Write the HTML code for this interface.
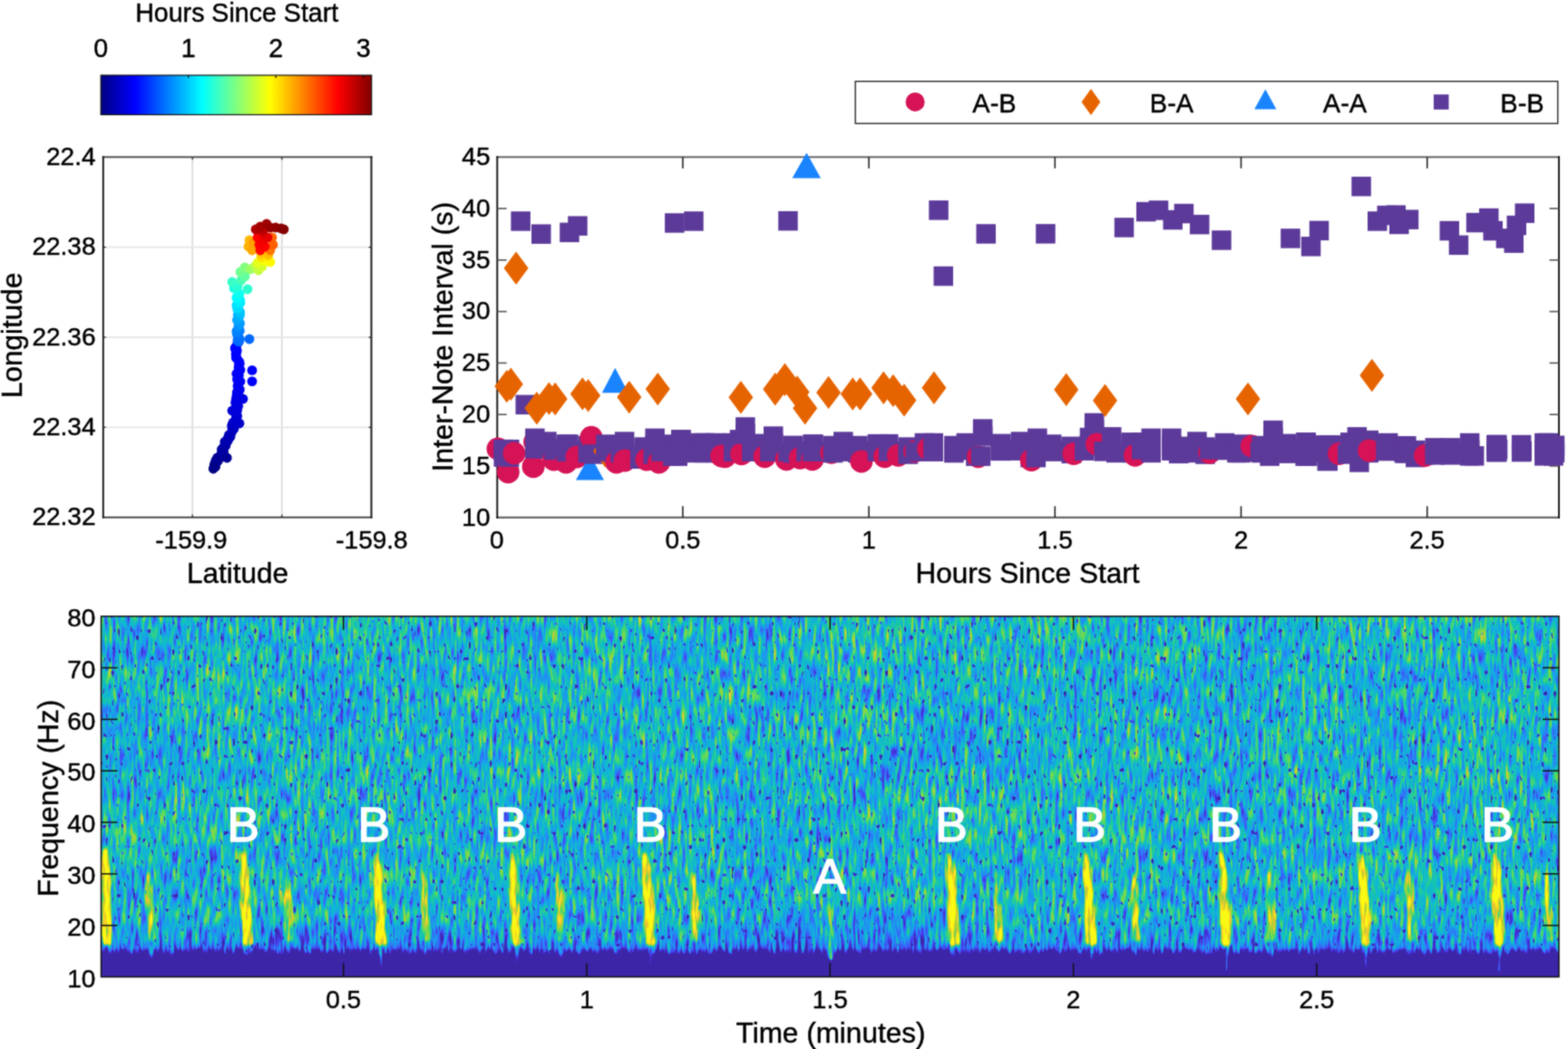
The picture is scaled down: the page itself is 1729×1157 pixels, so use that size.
<!DOCTYPE html>
<html><head><meta charset="utf-8"><title>Figure</title><style>
html,body{margin:0;padding:0;background:#fff;overflow:hidden;}
svg{display:block;}
text{font-family:"Liberation Sans", Arial, Helvetica, sans-serif;}
</style></head><body>
<svg width="1729" height="1157" viewBox="0 0 1729 1157">
<defs><linearGradient id="jetg" x1="0" y1="0" x2="1" y2="0"><stop offset="0.0000" stop-color="#000080"/><stop offset="0.0208" stop-color="#000095"/><stop offset="0.0417" stop-color="#0000aa"/><stop offset="0.0625" stop-color="#0000bf"/><stop offset="0.0833" stop-color="#0000d4"/><stop offset="0.1042" stop-color="#0000ea"/><stop offset="0.1250" stop-color="#0000ff"/><stop offset="0.1458" stop-color="#0015ff"/><stop offset="0.1667" stop-color="#002aff"/><stop offset="0.1875" stop-color="#0040ff"/><stop offset="0.2083" stop-color="#0055ff"/><stop offset="0.2292" stop-color="#006aff"/><stop offset="0.2500" stop-color="#0080ff"/><stop offset="0.2708" stop-color="#0095ff"/><stop offset="0.2917" stop-color="#00aaff"/><stop offset="0.3125" stop-color="#00bfff"/><stop offset="0.3333" stop-color="#00d4ff"/><stop offset="0.3542" stop-color="#00eaff"/><stop offset="0.3750" stop-color="#00ffff"/><stop offset="0.3958" stop-color="#15ffea"/><stop offset="0.4167" stop-color="#2bffd4"/><stop offset="0.4375" stop-color="#40ffbf"/><stop offset="0.4583" stop-color="#55ffaa"/><stop offset="0.4792" stop-color="#6aff95"/><stop offset="0.5000" stop-color="#80ff80"/><stop offset="0.5208" stop-color="#95ff6a"/><stop offset="0.5417" stop-color="#aaff55"/><stop offset="0.5625" stop-color="#bfff40"/><stop offset="0.5833" stop-color="#d5ff2a"/><stop offset="0.6042" stop-color="#eaff15"/><stop offset="0.6250" stop-color="#ffff00"/><stop offset="0.6458" stop-color="#ffea00"/><stop offset="0.6667" stop-color="#ffd500"/><stop offset="0.6875" stop-color="#ffbf00"/><stop offset="0.7083" stop-color="#ffaa00"/><stop offset="0.7292" stop-color="#ff9500"/><stop offset="0.7500" stop-color="#ff8000"/><stop offset="0.7708" stop-color="#ff6a00"/><stop offset="0.7917" stop-color="#ff5500"/><stop offset="0.8125" stop-color="#ff4000"/><stop offset="0.8333" stop-color="#ff2a00"/><stop offset="0.8542" stop-color="#ff1500"/><stop offset="0.8750" stop-color="#ff0000"/><stop offset="0.8958" stop-color="#ea0000"/><stop offset="0.9167" stop-color="#d50000"/><stop offset="0.9375" stop-color="#bf0000"/><stop offset="0.9583" stop-color="#aa0000"/><stop offset="0.9792" stop-color="#950000"/><stop offset="1.0000" stop-color="#800000"/></linearGradient>
<filter id="spf" filterUnits="userSpaceOnUse" x="111.5" y="679.7" width="1607.5" height="397.8" color-interpolation-filters="sRGB">
<feTurbulence type="fractalNoise" baseFrequency="0.25 0.045" numOctaves="2" seed="4" result="t"/>
<feColorMatrix in="t" type="matrix" values="1 0 0 0 0  1 0 0 0 0  1 0 0 0 0  0 0 0 0 1" result="g"/>
<feTurbulence type="fractalNoise" baseFrequency="0.01 0.015" numOctaves="2" seed="9" result="t2"/>
<feColorMatrix in="t2" type="matrix" values="1 0 0 0 0  1 0 0 0 0  1 0 0 0 0  0 0 0 0 1" result="g2"/>
<feComposite in="g" in2="g2" operator="arithmetic" k1="0" k2="1" k3="0.22" k4="-0.11" result="m"/>
<feComposite in="m" in2="SourceGraphic" operator="arithmetic" k1="0" k2="1" k3="2" k4="-1" result="v0"/>
<feTurbulence type="fractalNoise" baseFrequency="0.3 0.13" numOctaves="1" seed="21" result="t3"/><feColorMatrix in="t3" type="matrix" values="1 0 0 0 0  1 0 0 0 0  1 0 0 0 0  0 0 0 0 1" result="g3"/><feComponentTransfer in="g3" result="d3"><feFuncR type="table" tableValues="0.020 0.020 0.020 0.020 0.020 0.020 0.020 0.020 0.020 0.020 0.020 0.020 0.020 0.020 0.020 0.020 0.020 0.020 0.020 0.020 0.020 0.020 0.020 0.020 0.020 0.020 0.020 0.075 0.130 0.185 0.240 0.295 0.350 0.458 0.567 0.675 0.783 0.892 1.000 1.000 1.000 1.000 1.000 1.000 1.000 1.000 1.000 1.000 1.000 1.000 1.000 1.000 1.000 1.000 1.000 1.000 1.000 1.000 1.000 1.000 1.000 1.000 1.000 1.000 1.000 1.000 1.000 1.000 1.000 1.000 1.000 1.000 1.000 1.000 1.000 1.000 1.000 1.000 1.000 1.000 1.000 1.000 1.000 1.000 1.000 1.000 1.000 1.000 1.000 1.000 1.000 1.000 1.000 1.000 1.000 1.000 1.000 1.000 1.000 1.000 1.000"/><feFuncG type="table" tableValues="0.020 0.020 0.020 0.020 0.020 0.020 0.020 0.020 0.020 0.020 0.020 0.020 0.020 0.020 0.020 0.020 0.020 0.020 0.020 0.020 0.020 0.020 0.020 0.020 0.020 0.020 0.020 0.075 0.130 0.185 0.240 0.295 0.350 0.458 0.567 0.675 0.783 0.892 1.000 1.000 1.000 1.000 1.000 1.000 1.000 1.000 1.000 1.000 1.000 1.000 1.000 1.000 1.000 1.000 1.000 1.000 1.000 1.000 1.000 1.000 1.000 1.000 1.000 1.000 1.000 1.000 1.000 1.000 1.000 1.000 1.000 1.000 1.000 1.000 1.000 1.000 1.000 1.000 1.000 1.000 1.000 1.000 1.000 1.000 1.000 1.000 1.000 1.000 1.000 1.000 1.000 1.000 1.000 1.000 1.000 1.000 1.000 1.000 1.000 1.000 1.000"/><feFuncB type="table" tableValues="0.020 0.020 0.020 0.020 0.020 0.020 0.020 0.020 0.020 0.020 0.020 0.020 0.020 0.020 0.020 0.020 0.020 0.020 0.020 0.020 0.020 0.020 0.020 0.020 0.020 0.020 0.020 0.075 0.130 0.185 0.240 0.295 0.350 0.458 0.567 0.675 0.783 0.892 1.000 1.000 1.000 1.000 1.000 1.000 1.000 1.000 1.000 1.000 1.000 1.000 1.000 1.000 1.000 1.000 1.000 1.000 1.000 1.000 1.000 1.000 1.000 1.000 1.000 1.000 1.000 1.000 1.000 1.000 1.000 1.000 1.000 1.000 1.000 1.000 1.000 1.000 1.000 1.000 1.000 1.000 1.000 1.000 1.000 1.000 1.000 1.000 1.000 1.000 1.000 1.000 1.000 1.000 1.000 1.000 1.000 1.000 1.000 1.000 1.000 1.000 1.000"/></feComponentTransfer><feGaussianBlur in="d3" stdDeviation="0.7" result="d4"/><feComponentTransfer in="SourceGraphic" result="cm"><feFuncR type="table" tableValues="0 0 0 0 0 0 0 0 0 0 0 0.5 1 1 1 1 1 1 1 1 1"/><feFuncG type="table" tableValues="0 0 0 0 0 0 0 0 0 0 0 0.5 1 1 1 1 1 1 1 1 1"/><feFuncB type="table" tableValues="0 0 0 0 0 0 0 0 0 0 0 0.5 1 1 1 1 1 1 1 1 1"/></feComponentTransfer><feBlend in="d4" in2="cm" mode="lighten" result="d5"/><feBlend in="v0" in2="d5" mode="darken" result="v"/>
<feComponentTransfer in="v"><feFuncR type="table" tableValues="0.243 0.243 0.243 0.243 0.243 0.243 0.243 0.243 0.243 0.243 0.245 0.249 0.253 0.258 0.262 0.266 0.270 0.274 0.274 0.273 0.271 0.270 0.269 0.268 0.267 0.255 0.241 0.227 0.213 0.199 0.185 0.171 0.157 0.149 0.140 0.133 0.127 0.120 0.114 0.108 0.101 0.095 0.090 0.085 0.080 0.075 0.069 0.064 0.059 0.064 0.068 0.073 0.078 0.083 0.088 0.093 0.097 0.119 0.144 0.168 0.192 0.216 0.240 0.265 0.289 0.319 0.350 0.382 0.413 0.444 0.476 0.509 0.542 0.572 0.600 0.628 0.657 0.685 0.715 0.758 0.794 0.829 0.863 0.898 0.933 0.947 0.956 0.965 0.974 0.980 0.980 0.980 0.980 0.980 0.980 0.980"/><feFuncG type="table" tableValues="0.149 0.149 0.149 0.149 0.149 0.149 0.149 0.149 0.149 0.149 0.151 0.154 0.158 0.162 0.165 0.169 0.172 0.176 0.193 0.211 0.231 0.251 0.270 0.290 0.310 0.334 0.360 0.385 0.410 0.435 0.460 0.485 0.510 0.526 0.543 0.557 0.570 0.583 0.596 0.608 0.621 0.635 0.648 0.660 0.673 0.686 0.699 0.712 0.725 0.733 0.740 0.747 0.754 0.762 0.769 0.776 0.783 0.792 0.801 0.809 0.818 0.827 0.836 0.844 0.853 0.854 0.852 0.851 0.849 0.848 0.847 0.845 0.843 0.839 0.834 0.829 0.824 0.818 0.813 0.805 0.797 0.790 0.782 0.774 0.767 0.777 0.794 0.812 0.831 0.850 0.872 0.894 0.915 0.937 0.959 0.980"/><feFuncB type="table" tableValues="0.659 0.659 0.659 0.659 0.659 0.659 0.659 0.659 0.659 0.659 0.670 0.693 0.716 0.738 0.761 0.784 0.806 0.829 0.848 0.867 0.887 0.908 0.928 0.948 0.969 0.971 0.970 0.968 0.967 0.965 0.964 0.962 0.961 0.955 0.950 0.945 0.941 0.936 0.932 0.928 0.924 0.914 0.901 0.889 0.876 0.863 0.850 0.837 0.824 0.802 0.780 0.758 0.737 0.715 0.693 0.671 0.650 0.621 0.592 0.563 0.534 0.505 0.476 0.447 0.418 0.397 0.377 0.358 0.339 0.319 0.300 0.280 0.259 0.249 0.241 0.233 0.225 0.218 0.210 0.198 0.196 0.196 0.196 0.196 0.196 0.187 0.174 0.160 0.147 0.134 0.125 0.116 0.106 0.097 0.088 0.078"/><feFuncA type="linear" slope="0" intercept="1"/></feComponentTransfer>
</filter>
<filter id="cb" x="-50%" y="-20%" width="200%" height="140%"><feGaussianBlur stdDeviation="1.8"/></filter>
<linearGradient id="vg" gradientUnits="userSpaceOnUse" x1="0" y1="679.7" x2="0" y2="1077.5"><stop offset="0.0000" stop-color="rgb(131,131,131)"/><stop offset="0.1000" stop-color="rgb(129,129,129)"/><stop offset="0.2500" stop-color="rgb(128,128,128)"/><stop offset="0.8200" stop-color="rgb(128,128,128)"/><stop offset="0.8600" stop-color="rgb(122,122,122)"/><stop offset="0.8970" stop-color="rgb(115,115,115)"/><stop offset="0.9190" stop-color="rgb(105,105,105)"/><stop offset="0.9330" stop-color="rgb(70,70,70)"/><stop offset="0.9480" stop-color="rgb(0,0,0)"/><stop offset="1.0000" stop-color="rgb(0,0,0)"/></linearGradient><filter id="soft" filterUnits="userSpaceOnUse" x="0" y="0" width="1729" height="1157" color-interpolation-filters="sRGB"><feConvolveMatrix order="3" kernelMatrix="1 2 1 2 8 2 1 2 1" divisor="20" edgeMode="duplicate" preserveAlpha="true"/></filter></defs>
<g filter="url(#soft)">
<rect width="1729" height="1157" fill="#fff"/>
<text x="261.2" y="23.6" font-size="28.6" text-anchor="middle" fill="#000" stroke="#000" stroke-width="0.45">Hours Since Start</text>
<text x="111.2" y="63.2" font-size="28.6" text-anchor="middle" fill="#000" stroke="#000" stroke-width="0.45">0</text>
<text x="207.7" y="63.2" font-size="28.6" text-anchor="middle" fill="#000" stroke="#000" stroke-width="0.45">1</text>
<text x="304.2" y="63.2" font-size="28.6" text-anchor="middle" fill="#000" stroke="#000" stroke-width="0.45">2</text>
<text x="400.7" y="63.2" font-size="28.6" text-anchor="middle" fill="#000" stroke="#000" stroke-width="0.45">3</text>
<rect x="111.2" y="83" width="298.5" height="43.5" fill="url(#jetg)" stroke="#111" stroke-width="1.2"/>
<line x1="207.7" y1="83" x2="207.7" y2="86" stroke="#111" stroke-width="1.2"/>
<line x1="304.2" y1="83" x2="304.2" y2="86" stroke="#111" stroke-width="1.2"/>
<line x1="400.7" y1="83" x2="400.7" y2="86" stroke="#111" stroke-width="1.2"/>
<line x1="212.2" y1="173.3" x2="212.2" y2="570.6" stroke="#dcdcdc" stroke-width="1.8"/>
<line x1="310.8" y1="173.3" x2="310.8" y2="570.6" stroke="#dcdcdc" stroke-width="1.8"/>
<line x1="113.8" y1="272.6" x2="409.5" y2="272.6" stroke="#e6e6e6" stroke-width="1.8"/>
<line x1="113.8" y1="372" x2="409.5" y2="372" stroke="#e6e6e6" stroke-width="1.8"/>
<line x1="113.8" y1="471.3" x2="409.5" y2="471.3" stroke="#e6e6e6" stroke-width="1.8"/>
<circle cx="235.2" cy="517" r="5.4" fill="#000080"/>
<circle cx="237.4" cy="515" r="5.4" fill="#000082"/>
<circle cx="237.7" cy="514.1" r="5.4" fill="#000084"/>
<circle cx="236.3" cy="512.8" r="5.4" fill="#000087"/>
<circle cx="237" cy="510.8" r="5.4" fill="#000089"/>
<circle cx="237.9" cy="508" r="5.4" fill="#00008c"/>
<circle cx="240.2" cy="508.5" r="5.4" fill="#00008e"/>
<circle cx="239.6" cy="504.9" r="5.4" fill="#000091"/>
<circle cx="242.6" cy="505.3" r="5.4" fill="#000093"/>
<circle cx="243.3" cy="501.9" r="5.4" fill="#000096"/>
<circle cx="250.3" cy="505" r="5.4" fill="#000097"/>
<circle cx="246.1" cy="499.1" r="5.4" fill="#000098"/>
<circle cx="246.6" cy="498.1" r="5.4" fill="#00009b"/>
<circle cx="244.4" cy="495.9" r="5.4" fill="#00009d"/>
<circle cx="245.9" cy="496.2" r="5.4" fill="#0000a0"/>
<circle cx="246.1" cy="493.7" r="5.4" fill="#0000a2"/>
<circle cx="248.9" cy="491.4" r="5.4" fill="#0000a5"/>
<circle cx="249.2" cy="488.7" r="5.4" fill="#0000a7"/>
<circle cx="247.8" cy="487.4" r="5.4" fill="#0000aa"/>
<circle cx="251.3" cy="486.3" r="5.4" fill="#0000ac"/>
<circle cx="250.4" cy="485" r="5.4" fill="#0000ae"/>
<circle cx="251.8" cy="482.4" r="5.4" fill="#0000b1"/>
<circle cx="253" cy="482" r="5.4" fill="#0000b1"/>
<circle cx="254" cy="481.8" r="5.4" fill="#0000b3"/>
<circle cx="252.4" cy="479.7" r="5.4" fill="#0000b6"/>
<circle cx="254.4" cy="478.9" r="5.4" fill="#0000b8"/>
<circle cx="256" cy="475.4" r="5.4" fill="#0000bb"/>
<circle cx="257.9" cy="472.9" r="5.4" fill="#0000bd"/>
<circle cx="256.1" cy="472.8" r="5.4" fill="#0000c0"/>
<circle cx="255.7" cy="470" r="5.4" fill="#0000c2"/>
<circle cx="256" cy="468.5" r="5.4" fill="#0000c5"/>
<circle cx="257" cy="466" r="5.4" fill="#0000c5"/>
<circle cx="259.7" cy="466.2" r="5.4" fill="#0000c7"/>
<circle cx="264" cy="467" r="5.4" fill="#0000c8"/>
<circle cx="260.7" cy="463.4" r="5.4" fill="#0000ca"/>
<circle cx="260.4" cy="462.3" r="5.4" fill="#0000cc"/>
<circle cx="260.4" cy="459.9" r="5.4" fill="#0000cf"/>
<circle cx="261.7" cy="459.1" r="5.4" fill="#0000d1"/>
<circle cx="260.4" cy="456" r="5.4" fill="#0000d4"/>
<circle cx="256" cy="453" r="5.4" fill="#0000d5"/>
<circle cx="258.8" cy="453.9" r="5.4" fill="#0000d6"/>
<circle cx="261.6" cy="452.5" r="5.4" fill="#0000d9"/>
<circle cx="262.7" cy="448.1" r="5.4" fill="#0000db"/>
<circle cx="261" cy="447" r="5.4" fill="#0000dd"/>
<circle cx="259.6" cy="444.1" r="5.4" fill="#0000e0"/>
<circle cx="260.5" cy="440.9" r="5.4" fill="#0000e2"/>
<circle cx="268" cy="440" r="5.4" fill="#0000e2"/>
<circle cx="260.3" cy="440.6" r="5.4" fill="#0000e4"/>
<circle cx="260.9" cy="436.7" r="5.4" fill="#0000e6"/>
<circle cx="262.3" cy="436.4" r="5.4" fill="#0000e7"/>
<circle cx="261.2" cy="432.8" r="5.4" fill="#0000e9"/>
<circle cx="263.2" cy="431.9" r="5.4" fill="#0000eb"/>
<circle cx="264.4" cy="429.6" r="5.4" fill="#0000ec"/>
<circle cx="262" cy="426" r="5.4" fill="#0000ee"/>
<circle cx="262.4" cy="425.2" r="5.4" fill="#0000f0"/>
<circle cx="265" cy="420.7" r="5.4" fill="#0000f1"/>
<circle cx="261.6" cy="418.7" r="5.4" fill="#0000f3"/>
<circle cx="261.8" cy="417.2" r="5.4" fill="#0000f5"/>
<circle cx="263.4" cy="414.3" r="5.4" fill="#0000f6"/>
<circle cx="260.8" cy="412.3" r="5.4" fill="#0000f7"/>
<circle cx="262.4" cy="410.2" r="5.4" fill="#0000f8"/>
<circle cx="265" cy="408.1" r="5.4" fill="#0000f9"/>
<circle cx="263.1" cy="405.4" r="5.4" fill="#0000fa"/>
<circle cx="278" cy="420.6" r="5.4" fill="#0000fa"/>
<circle cx="263.5" cy="401.4" r="5.4" fill="#0000fa"/>
<circle cx="264.3" cy="401.3" r="5.4" fill="#0000fb"/>
<circle cx="263.9" cy="399.1" r="5.4" fill="#0000fc"/>
<circle cx="261.5" cy="395.7" r="5.4" fill="#0000fd"/>
<circle cx="278" cy="408.4" r="5.4" fill="#0000fd"/>
<circle cx="260.3" cy="394.4" r="5.4" fill="#0000fe"/>
<circle cx="260.1" cy="390.7" r="5.4" fill="#0000fe"/>
<circle cx="260.7" cy="389" r="5.4" fill="#0000ff"/>
<circle cx="261.3" cy="386.7" r="5.4" fill="#0001ff"/>
<circle cx="259.6" cy="385.2" r="5.4" fill="#0002ff"/>
<circle cx="259.7" cy="384.1" r="5.4" fill="#0003ff"/>
<circle cx="259.2" cy="383.9" r="5.4" fill="#0004ff"/>
<circle cx="261" cy="381" r="5.4" fill="#0004ff"/>
<circle cx="263.5" cy="376.9" r="5.4" fill="#0067ff"/>
<circle cx="275" cy="374" r="5.4" fill="#0067ff"/>
<circle cx="261.9" cy="375.8" r="5.4" fill="#006aff"/>
<circle cx="262.4" cy="373.4" r="5.4" fill="#006cff"/>
<circle cx="264.5" cy="374.2" r="5.4" fill="#006fff"/>
<circle cx="262.9" cy="371" r="5.4" fill="#0071ff"/>
<circle cx="261.2" cy="368.1" r="5.4" fill="#0075ff"/>
<circle cx="262.3" cy="366.8" r="5.4" fill="#0079ff"/>
<circle cx="264.4" cy="364.7" r="5.4" fill="#007eff"/>
<circle cx="260.9" cy="365.4" r="5.4" fill="#0082ff"/>
<circle cx="263.1" cy="360.9" r="5.4" fill="#0087ff"/>
<circle cx="263.2" cy="358.6" r="5.4" fill="#008dff"/>
<circle cx="263.1" cy="359.4" r="5.4" fill="#0093ff"/>
<circle cx="264.6" cy="356.6" r="5.4" fill="#0099ff"/>
<circle cx="261.9" cy="353.6" r="5.4" fill="#009fff"/>
<circle cx="261.5" cy="352.8" r="5.4" fill="#00a4ff"/>
<circle cx="263.1" cy="350.8" r="5.4" fill="#00aaff"/>
<circle cx="262.3" cy="347.2" r="5.4" fill="#00b0ff"/>
<circle cx="264.4" cy="347.7" r="5.4" fill="#00b6ff"/>
<circle cx="264.6" cy="345.4" r="5.4" fill="#00bdff"/>
<circle cx="264.4" cy="343.5" r="5.4" fill="#00c4ff"/>
<circle cx="261.8" cy="341.1" r="5.4" fill="#00caff"/>
<circle cx="262.4" cy="337.8" r="5.4" fill="#00d1ff"/>
<circle cx="260.9" cy="336.8" r="5.4" fill="#00d7ff"/>
<circle cx="262" cy="340" r="5.4" fill="#00dbff"/>
<circle cx="261.9" cy="336.3" r="5.4" fill="#00deff"/>
<circle cx="265" cy="333.8" r="5.4" fill="#00e5ff"/>
<circle cx="264.7" cy="334" r="5.4" fill="#00eaff"/>
<circle cx="263" cy="334" r="5.4" fill="#00ebff"/>
<circle cx="264.5" cy="330.6" r="5.4" fill="#00f0ff"/>
<circle cx="261" cy="328.7" r="5.4" fill="#00f6ff"/>
<circle cx="262" cy="328" r="5.4" fill="#00fcff"/>
<circle cx="261" cy="328" r="5.4" fill="#00fcff"/>
<circle cx="264" cy="324" r="5.4" fill="#0dfff2"/>
<circle cx="258" cy="318" r="5.4" fill="#1effe1"/>
<circle cx="262" cy="316" r="5.4" fill="#28ffd7"/>
<circle cx="273" cy="319" r="5.4" fill="#2effd1"/>
<circle cx="256" cy="311" r="5.4" fill="#38ffc7"/>
<circle cx="266" cy="309" r="5.4" fill="#49ffb6"/>
<circle cx="270" cy="305" r="5.4" fill="#60ff9f"/>
<circle cx="265" cy="300" r="5.4" fill="#70ff8f"/>
<circle cx="270" cy="295" r="5.4" fill="#81ff7e"/>
<circle cx="276" cy="297" r="5.4" fill="#98ff67"/>
<circle cx="281" cy="294" r="5.4" fill="#b2ff4d"/>
<circle cx="285" cy="298" r="5.4" fill="#c3ff3c"/>
<circle cx="289" cy="294" r="5.4" fill="#d3ff2c"/>
<circle cx="284" cy="290" r="5.4" fill="#e4ff1b"/>
<circle cx="292" cy="288" r="5.4" fill="#f4ff0b"/>
<circle cx="298" cy="289" r="5.4" fill="#fff900"/>
<circle cx="295" cy="283" r="5.4" fill="#ffe900"/>
<circle cx="288" cy="284" r="5.4" fill="#ffe200"/>
<circle cx="288" cy="280" r="5.4" fill="#ffc800"/>
<circle cx="296" cy="281" r="5.4" fill="#ffc100"/>
<circle cx="275" cy="265" r="5.4" fill="#ffb800"/>
<circle cx="274" cy="272" r="5.4" fill="#ffb100"/>
<circle cx="278" cy="276" r="5.4" fill="#ffa700"/>
<circle cx="279" cy="268" r="5.4" fill="#ffa000"/>
<circle cx="298" cy="276" r="5.4" fill="#ff7600"/>
<circle cx="300" cy="262" r="5.4" fill="#ff6500"/>
<circle cx="301" cy="270" r="5.4" fill="#ff5f00"/>
<circle cx="287" cy="276" r="5.4" fill="#ff0900"/>
<circle cx="284" cy="262" r="5.4" fill="#ff0200"/>
<circle cx="292" cy="272" r="5.4" fill="#ff0200"/>
<circle cx="286" cy="270" r="5.4" fill="#fb0000"/>
<circle cx="290" cy="266" r="5.4" fill="#f10000"/>
<circle cx="295" cy="262" r="5.4" fill="#e70000"/>
<circle cx="290" cy="258" r="5.4" fill="#e00000"/>
<circle cx="290" cy="254" r="5.4" fill="#b90000"/>
<circle cx="282" cy="253" r="5.4" fill="#af0000"/>
<circle cx="287" cy="250" r="5.4" fill="#a50000"/>
<circle cx="294" cy="247" r="5.4" fill="#9e0000"/>
<circle cx="298" cy="251" r="5.4" fill="#980000"/>
<circle cx="304" cy="251" r="5.4" fill="#910000"/>
<circle cx="310" cy="252" r="5.4" fill="#8a0000"/>
<circle cx="313" cy="253" r="5.4" fill="#840000"/>
<line x1="113.8" y1="173.3" x2="409.5" y2="173.3" stroke="#555" stroke-width="1.9" stroke-linecap="square"/><line x1="113.8" y1="570.6" x2="409.5" y2="570.6" stroke="#333" stroke-width="1.9" stroke-linecap="square"/><line x1="113.8" y1="173.3" x2="113.8" y2="570.6" stroke="#111" stroke-width="1.9" stroke-linecap="square"/><line x1="409.5" y1="173.3" x2="409.5" y2="570.6" stroke="#111" stroke-width="1.9" stroke-linecap="square"/>
<line x1="113.8" y1="272.6" x2="116.8" y2="272.6" stroke="#262626" stroke-width="1.2"/>
<line x1="406.5" y1="272.6" x2="409.5" y2="272.6" stroke="#262626" stroke-width="1.2"/>
<line x1="113.8" y1="372" x2="116.8" y2="372" stroke="#262626" stroke-width="1.2"/>
<line x1="406.5" y1="372" x2="409.5" y2="372" stroke="#262626" stroke-width="1.2"/>
<line x1="113.8" y1="471.3" x2="116.8" y2="471.3" stroke="#262626" stroke-width="1.2"/>
<line x1="406.5" y1="471.3" x2="409.5" y2="471.3" stroke="#262626" stroke-width="1.2"/>
<line x1="212.2" y1="567.6" x2="212.2" y2="570.6" stroke="#262626" stroke-width="1.2"/>
<line x1="212.2" y1="173.3" x2="212.2" y2="176.3" stroke="#262626" stroke-width="1.2"/>
<line x1="310.8" y1="567.6" x2="310.8" y2="570.6" stroke="#262626" stroke-width="1.2"/>
<line x1="310.8" y1="173.3" x2="310.8" y2="176.3" stroke="#262626" stroke-width="1.2"/>
<text x="105.5" y="182.1" font-size="28" text-anchor="end" fill="#000" stroke="#000" stroke-width="0.45">22.4</text>
<text x="105.5" y="281.4" font-size="28" text-anchor="end" fill="#000" stroke="#000" stroke-width="0.45">22.38</text>
<text x="105.5" y="380.8" font-size="28" text-anchor="end" fill="#000" stroke="#000" stroke-width="0.45">22.36</text>
<text x="105.5" y="480.1" font-size="28" text-anchor="end" fill="#000" stroke="#000" stroke-width="0.45">22.34</text>
<text x="105.5" y="579.4" font-size="28" text-anchor="end" fill="#000" stroke="#000" stroke-width="0.45">22.32</text>
<text x="211" y="604.5" font-size="28" text-anchor="middle" fill="#000" stroke="#000" stroke-width="0.45">-159.9</text>
<text x="410" y="604.5" font-size="28" text-anchor="middle" fill="#000" stroke="#000" stroke-width="0.45">-159.8</text>
<text x="262" y="643" font-size="31.5" text-anchor="middle" fill="#000" stroke="#000" stroke-width="0.45">Latitude</text>
<text x="0" y="0" font-size="31.5" text-anchor="middle" stroke="#000" stroke-width="0.45" transform="translate(24.2 369.8) rotate(-90)">Longitude</text>
<line x1="548.3" y1="173.2" x2="1719" y2="173.2" stroke="#666" stroke-width="1.9" stroke-linecap="square"/><line x1="548.3" y1="570.8" x2="1719" y2="570.8" stroke="#555" stroke-width="1.9" stroke-linecap="square"/><line x1="548.3" y1="173.2" x2="548.3" y2="570.8" stroke="#111" stroke-width="1.9" stroke-linecap="square"/><line x1="1719" y1="173.2" x2="1719" y2="570.8" stroke="#111" stroke-width="1.9" stroke-linecap="square"/>
<text x="540.5" y="579.6" font-size="28" text-anchor="end" fill="#000" stroke="#000" stroke-width="0.45">10</text>
<text x="540.5" y="522.8" font-size="28" text-anchor="end" fill="#000" stroke="#000" stroke-width="0.45">15</text>
<line x1="548.3" y1="514" x2="558.7" y2="514" stroke="#555" stroke-width="1.6"/>
<line x1="1708.6" y1="514" x2="1719" y2="514" stroke="#555" stroke-width="1.6"/>
<text x="540.5" y="466" font-size="28" text-anchor="end" fill="#000" stroke="#000" stroke-width="0.45">20</text>
<line x1="548.3" y1="457.2" x2="558.7" y2="457.2" stroke="#555" stroke-width="1.6"/>
<line x1="1708.6" y1="457.2" x2="1719" y2="457.2" stroke="#555" stroke-width="1.6"/>
<text x="540.5" y="409.2" font-size="28" text-anchor="end" fill="#000" stroke="#000" stroke-width="0.45">25</text>
<line x1="548.3" y1="400.4" x2="558.7" y2="400.4" stroke="#555" stroke-width="1.6"/>
<line x1="1708.6" y1="400.4" x2="1719" y2="400.4" stroke="#555" stroke-width="1.6"/>
<text x="540.5" y="352.4" font-size="28" text-anchor="end" fill="#000" stroke="#000" stroke-width="0.45">30</text>
<line x1="548.3" y1="343.6" x2="558.7" y2="343.6" stroke="#555" stroke-width="1.6"/>
<line x1="1708.6" y1="343.6" x2="1719" y2="343.6" stroke="#555" stroke-width="1.6"/>
<text x="540.5" y="295.6" font-size="28" text-anchor="end" fill="#000" stroke="#000" stroke-width="0.45">35</text>
<line x1="548.3" y1="286.8" x2="558.7" y2="286.8" stroke="#555" stroke-width="1.6"/>
<line x1="1708.6" y1="286.8" x2="1719" y2="286.8" stroke="#555" stroke-width="1.6"/>
<text x="540.5" y="238.8" font-size="28" text-anchor="end" fill="#000" stroke="#000" stroke-width="0.45">40</text>
<line x1="548.3" y1="230" x2="558.7" y2="230" stroke="#555" stroke-width="1.6"/>
<line x1="1708.6" y1="230" x2="1719" y2="230" stroke="#555" stroke-width="1.6"/>
<text x="540.5" y="182" font-size="28" text-anchor="end" fill="#000" stroke="#000" stroke-width="0.45">45</text>
<text x="547.7" y="605" font-size="28" text-anchor="middle" fill="#000" stroke="#000" stroke-width="0.45">0</text>
<text x="752.9" y="605" font-size="28" text-anchor="middle" fill="#000" stroke="#000" stroke-width="0.45">0.5</text>
<line x1="752.9" y1="570.8" x2="752.9" y2="558.3" stroke="#222" stroke-width="1.6"/>
<line x1="752.9" y1="173.2" x2="752.9" y2="185.7" stroke="#222" stroke-width="1.6"/>
<text x="958.1" y="605" font-size="28" text-anchor="middle" fill="#000" stroke="#000" stroke-width="0.45">1</text>
<line x1="958.1" y1="570.8" x2="958.1" y2="558.3" stroke="#222" stroke-width="1.6"/>
<line x1="958.1" y1="173.2" x2="958.1" y2="185.7" stroke="#222" stroke-width="1.6"/>
<text x="1163.3" y="605" font-size="28" text-anchor="middle" fill="#000" stroke="#000" stroke-width="0.45">1.5</text>
<line x1="1163.3" y1="570.8" x2="1163.3" y2="558.3" stroke="#222" stroke-width="1.6"/>
<line x1="1163.3" y1="173.2" x2="1163.3" y2="185.7" stroke="#222" stroke-width="1.6"/>
<text x="1368.5" y="605" font-size="28" text-anchor="middle" fill="#000" stroke="#000" stroke-width="0.45">2</text>
<line x1="1368.5" y1="570.8" x2="1368.5" y2="558.3" stroke="#222" stroke-width="1.6"/>
<line x1="1368.5" y1="173.2" x2="1368.5" y2="185.7" stroke="#222" stroke-width="1.6"/>
<text x="1573.7" y="605" font-size="28" text-anchor="middle" fill="#000" stroke="#000" stroke-width="0.45">2.5</text>
<line x1="1573.7" y1="570.8" x2="1573.7" y2="558.3" stroke="#222" stroke-width="1.6"/>
<line x1="1573.7" y1="173.2" x2="1573.7" y2="185.7" stroke="#222" stroke-width="1.6"/>
<g>
<circle cx="549" cy="495" r="12.5" fill="#d51356"/>
<rect x="544.5" y="485.3" width="21.5" height="21.5" fill="#5c3a9a"/>
<rect x="544.5" y="484.9" width="21.5" height="21.5" fill="#5c3a9a"/>
<rect x="544.5" y="493.3" width="21.5" height="21.5" fill="#5c3a9a"/>
<path d="M558.8 407.9L572.3 426.1L558.8 444.3L545.3 426.1Z" fill="#e66400"/>
<circle cx="560.3" cy="520.7" r="12.5" fill="#d51356"/>
<rect x="550.8" y="485.3" width="21.5" height="21.5" fill="#5c3a9a"/>
<rect x="550.8" y="484.9" width="21.5" height="21.5" fill="#5c3a9a"/>
<rect x="550.8" y="493.3" width="21.5" height="21.5" fill="#5c3a9a"/>
<path d="M563.3 405.6L576.8 423.8L563.3 442L549.8 423.8Z" fill="#e66400"/>
<circle cx="567" cy="500" r="12.5" fill="#d51356"/>
<path d="M569.1 277.6L582.6 295.8L569.1 314L555.6 295.8Z" fill="#e66400"/>
<rect x="563.4" y="233.2" width="21.5" height="21.5" fill="#5c3a9a"/>
<rect x="568.5" y="435.6" width="21.5" height="21.5" fill="#5c3a9a"/>
<circle cx="588.1" cy="514.7" r="12.5" fill="#d51356"/>
<circle cx="589.6" cy="487.6" r="12.5" fill="#d51356"/>
<rect x="579.1" y="472.6" width="21.5" height="21.5" fill="#5c3a9a"/>
<rect x="579.1" y="484.1" width="21.5" height="21.5" fill="#5c3a9a"/>
<rect x="579.1" y="480.6" width="21.5" height="21.5" fill="#5c3a9a"/>
<path d="M591.9 432L605.4 450.2L591.9 468.4L578.4 450.2Z" fill="#e66400"/>
<rect x="586" y="247.4" width="21.5" height="21.5" fill="#5c3a9a"/>
<rect x="592.2" y="476.3" width="21.5" height="21.5" fill="#5c3a9a"/>
<rect x="592.2" y="484.3" width="21.5" height="21.5" fill="#5c3a9a"/>
<path d="M605.4 421.4L618.9 439.6L605.4 457.8L591.9 439.6Z" fill="#e66400"/>
<circle cx="610.7" cy="507" r="12.5" fill="#d51356"/>
<rect x="600.2" y="485.6" width="21.5" height="21.5" fill="#5c3a9a"/>
<path d="M612.2 421.8L625.7 440L612.2 458.2L598.7 440Z" fill="#e66400"/>
<circle cx="624.2" cy="510" r="12.5" fill="#d51356"/>
<rect x="613.7" y="479.3" width="21.5" height="21.5" fill="#5c3a9a"/>
<rect x="613.7" y="487.3" width="21.5" height="21.5" fill="#5c3a9a"/>
<rect x="616.2" y="479.3" width="21.5" height="21.5" fill="#5c3a9a"/>
<rect x="616.2" y="485.6" width="21.5" height="21.5" fill="#5c3a9a"/>
<rect x="616.2" y="487.3" width="21.5" height="21.5" fill="#5c3a9a"/>
<rect x="617.2" y="245.6" width="21.5" height="21.5" fill="#5c3a9a"/>
<circle cx="636" cy="504" r="12.5" fill="#d51356"/>
<rect x="626.2" y="238.4" width="21.5" height="21.5" fill="#5c3a9a"/>
<path d="M642.3 416.2L655.8 434.4L642.3 452.6L628.8 434.4Z" fill="#e66400"/>
<rect x="637.7" y="480.8" width="21.5" height="21.5" fill="#5c3a9a"/>
<rect x="637.7" y="488.8" width="21.5" height="21.5" fill="#5c3a9a"/>
<path d="M648.6 418L662.1 436.2L648.6 454.4L635.1 436.2Z" fill="#e66400"/>
<path d="M650.5 501.5L666 529.5L635 529.5Z" fill="#1a84ff"/>
<circle cx="652" cy="482.3" r="12.5" fill="#d51356"/>
<rect x="643.8" y="490.2" width="21.5" height="21.5" fill="#5c3a9a"/>
<path d="M667.5 479.3L681 497.5L667.5 515.7L654 497.5Z" fill="#e66400"/>
<rect x="657.3" y="479.3" width="21.5" height="21.5" fill="#5c3a9a"/>
<rect x="657.3" y="487.3" width="21.5" height="21.5" fill="#5c3a9a"/>
<rect x="666.3" y="488.7" width="21.5" height="21.5" fill="#5c3a9a"/>
<path d="M678.3 405.8L692.8 433.3L663.8 433.3Z" fill="#1a84ff"/>
<circle cx="679.8" cy="510" r="12.5" fill="#d51356"/>
<rect x="673.4" y="488.7" width="21.5" height="21.5" fill="#5c3a9a"/>
<rect x="677.9" y="476.3" width="21.5" height="21.5" fill="#5c3a9a"/>
<rect x="677.9" y="484.3" width="21.5" height="21.5" fill="#5c3a9a"/>
<circle cx="688.9" cy="508" r="12.5" fill="#d51356"/>
<path d="M693.8 419.9L707.3 438.1L693.8 456.3L680.3 438.1Z" fill="#e66400"/>
<rect x="694.9" y="495.4" width="21.5" height="21.5" fill="#5c3a9a"/>
<rect x="695.2" y="495.4" width="21.5" height="21.5" fill="#5c3a9a"/>
<rect x="699.4" y="482.3" width="21.5" height="21.5" fill="#5c3a9a"/>
<rect x="699.4" y="490.3" width="21.5" height="21.5" fill="#5c3a9a"/>
<circle cx="713" cy="507" r="12.5" fill="#d51356"/>
<rect x="709.5" y="490.2" width="21.5" height="21.5" fill="#5c3a9a"/>
<rect x="711.4" y="472.6" width="21.5" height="21.5" fill="#5c3a9a"/>
<rect x="711.4" y="480.6" width="21.5" height="21.5" fill="#5c3a9a"/>
<path d="M725.3 410.9L738.8 429.1L725.3 447.3L711.8 429.1Z" fill="#e66400"/>
<circle cx="726.5" cy="510" r="12.5" fill="#d51356"/>
<rect x="718.5" y="479.3" width="21.5" height="21.5" fill="#5c3a9a"/>
<rect x="718.5" y="487.3" width="21.5" height="21.5" fill="#5c3a9a"/>
<rect x="731" y="492.4" width="21.5" height="21.5" fill="#5c3a9a"/>
<rect x="733.1" y="235.2" width="21.5" height="21.5" fill="#5c3a9a"/>
<rect x="736.5" y="492.4" width="21.5" height="21.5" fill="#5c3a9a"/>
<rect x="740" y="474.1" width="21.5" height="21.5" fill="#5c3a9a"/>
<rect x="740" y="482.1" width="21.5" height="21.5" fill="#5c3a9a"/>
<rect x="740.3" y="474.1" width="21.5" height="21.5" fill="#5c3a9a"/>
<rect x="740.3" y="482.1" width="21.5" height="21.5" fill="#5c3a9a"/>
<rect x="754.2" y="233.2" width="21.5" height="21.5" fill="#5c3a9a"/>
<rect x="758" y="488.7" width="21.5" height="21.5" fill="#5c3a9a"/>
<rect x="761.8" y="477.8" width="21.5" height="21.5" fill="#5c3a9a"/>
<rect x="761.8" y="485.8" width="21.5" height="21.5" fill="#5c3a9a"/>
<rect x="766.6" y="477.8" width="21.5" height="21.5" fill="#5c3a9a"/>
<rect x="766.6" y="488.7" width="21.5" height="21.5" fill="#5c3a9a"/>
<rect x="766.6" y="485.8" width="21.5" height="21.5" fill="#5c3a9a"/>
<rect x="778.5" y="477.8" width="21.5" height="21.5" fill="#5c3a9a"/>
<rect x="778.5" y="488.7" width="21.5" height="21.5" fill="#5c3a9a"/>
<rect x="778.5" y="485.8" width="21.5" height="21.5" fill="#5c3a9a"/>
<circle cx="795.6" cy="503" r="12.5" fill="#d51356"/>
<circle cx="799.5" cy="503.7" r="12.5" fill="#d51356"/>
<rect x="798" y="477.8" width="21.5" height="21.5" fill="#5c3a9a"/>
<rect x="798" y="487.4" width="21.5" height="21.5" fill="#5c3a9a"/>
<rect x="798" y="485.8" width="21.5" height="21.5" fill="#5c3a9a"/>
<rect x="804.8" y="474.1" width="21.5" height="21.5" fill="#5c3a9a"/>
<rect x="804.8" y="482.1" width="21.5" height="21.5" fill="#5c3a9a"/>
<path d="M816.9 420L830.4 438.2L816.9 456.4L803.4 438.2Z" fill="#e66400"/>
<circle cx="817.6" cy="500.7" r="12.5" fill="#d51356"/>
<rect x="811.1" y="460.2" width="21.5" height="21.5" fill="#5c3a9a"/>
<rect x="811.1" y="468.2" width="21.5" height="21.5" fill="#5c3a9a"/>
<rect x="818.1" y="487.4" width="21.5" height="21.5" fill="#5c3a9a"/>
<rect x="820.9" y="478.6" width="21.5" height="21.5" fill="#5c3a9a"/>
<rect x="820.9" y="486.6" width="21.5" height="21.5" fill="#5c3a9a"/>
<circle cx="843.2" cy="503.7" r="12.5" fill="#d51356"/>
<rect x="838.1" y="487.4" width="21.5" height="21.5" fill="#5c3a9a"/>
<rect x="842" y="470.3" width="21.5" height="21.5" fill="#5c3a9a"/>
<rect x="842" y="478.3" width="21.5" height="21.5" fill="#5c3a9a"/>
<path d="M854.8 411.1L868.3 429.3L854.8 447.5L841.3 429.3Z" fill="#e66400"/>
<path d="M865.5 400.5L879 418.7L865.5 436.9L852 418.7Z" fill="#e66400"/>
<circle cx="867.2" cy="506.7" r="12.5" fill="#d51356"/>
<rect x="858.2" y="487.4" width="21.5" height="21.5" fill="#5c3a9a"/>
<rect x="858.2" y="232.9" width="21.5" height="21.5" fill="#5c3a9a"/>
<rect x="863.5" y="480.8" width="21.5" height="21.5" fill="#5c3a9a"/>
<rect x="863.5" y="488.8" width="21.5" height="21.5" fill="#5c3a9a"/>
<rect x="863.8" y="480.8" width="21.5" height="21.5" fill="#5c3a9a"/>
<rect x="863.8" y="488.8" width="21.5" height="21.5" fill="#5c3a9a"/>
<path d="M879.1 414.3L892.6 432.5L879.1 450.7L865.6 432.5Z" fill="#e66400"/>
<circle cx="882.3" cy="505.2" r="12.5" fill="#d51356"/>
<path d="M887.7 432.1L901.2 450.3L887.7 468.5L874.2 450.3Z" fill="#e66400"/>
<rect x="878.2" y="487.4" width="21.5" height="21.5" fill="#5c3a9a"/>
<path d="M889.4 168.4L905.1 196.4L873.6 196.4Z" fill="#1a84ff"/>
<circle cx="895.8" cy="506.7" r="12.5" fill="#d51356"/>
<rect x="885.3" y="479.3" width="21.5" height="21.5" fill="#5c3a9a"/>
<rect x="885.3" y="487.3" width="21.5" height="21.5" fill="#5c3a9a"/>
<rect x="886.3" y="479.3" width="21.5" height="21.5" fill="#5c3a9a"/>
<rect x="886.3" y="487.3" width="21.5" height="21.5" fill="#5c3a9a"/>
<rect x="898.3" y="487.4" width="21.5" height="21.5" fill="#5c3a9a"/>
<path d="M913.6 414.7L927.1 432.9L913.6 451.1L900.1 432.9Z" fill="#e66400"/>
<circle cx="916.8" cy="499.2" r="12.5" fill="#d51356"/>
<rect x="907.8" y="480.8" width="21.5" height="21.5" fill="#5c3a9a"/>
<rect x="907.8" y="488.8" width="21.5" height="21.5" fill="#5c3a9a"/>
<rect x="918.3" y="487.4" width="21.5" height="21.5" fill="#5c3a9a"/>
<rect x="919.1" y="476.3" width="21.5" height="21.5" fill="#5c3a9a"/>
<rect x="919.1" y="484.3" width="21.5" height="21.5" fill="#5c3a9a"/>
<path d="M940.3 416.3L953.8 434.5L940.3 452.7L926.8 434.5Z" fill="#e66400"/>
<rect x="935.2" y="480.8" width="21.5" height="21.5" fill="#5c3a9a"/>
<rect x="935.2" y="488.8" width="21.5" height="21.5" fill="#5c3a9a"/>
<path d="M948.4 416.3L961.9 434.5L948.4 452.7L934.9 434.5Z" fill="#e66400"/>
<rect x="938.3" y="487.4" width="21.5" height="21.5" fill="#5c3a9a"/>
<circle cx="949.9" cy="508.9" r="12.5" fill="#d51356"/>
<rect x="956.7" y="478.9" width="21.5" height="21.5" fill="#5c3a9a"/>
<rect x="956.7" y="486.9" width="21.5" height="21.5" fill="#5c3a9a"/>
<rect x="958.4" y="487.4" width="21.5" height="21.5" fill="#5c3a9a"/>
<path d="M974.3 409.5L987.8 427.7L974.3 445.9L960.8 427.7Z" fill="#e66400"/>
<circle cx="975.5" cy="503.7" r="12.5" fill="#d51356"/>
<rect x="969" y="478.9" width="21.5" height="21.5" fill="#5c3a9a"/>
<rect x="969" y="486.9" width="21.5" height="21.5" fill="#5c3a9a"/>
<path d="M984.9 412.7L998.4 430.9L984.9 449.1L971.4 430.9Z" fill="#e66400"/>
<rect x="978.4" y="487.4" width="21.5" height="21.5" fill="#5c3a9a"/>
<circle cx="990.5" cy="502.2" r="12.5" fill="#d51356"/>
<path d="M997 423.2L1010.5 441.4L997 459.6L983.5 441.4Z" fill="#e66400"/>
<rect x="990.5" y="482.3" width="21.5" height="21.5" fill="#5c3a9a"/>
<rect x="990.5" y="490.3" width="21.5" height="21.5" fill="#5c3a9a"/>
<circle cx="1008.6" cy="497.7" r="12.5" fill="#d51356"/>
<rect x="998.5" y="487.4" width="21.5" height="21.5" fill="#5c3a9a"/>
<rect x="1008.6" y="477.8" width="21.5" height="21.5" fill="#5c3a9a"/>
<rect x="1008.6" y="485.8" width="21.5" height="21.5" fill="#5c3a9a"/>
<circle cx="1023.6" cy="495" r="12.5" fill="#d51356"/>
<rect x="1018.5" y="477.8" width="21.5" height="21.5" fill="#5c3a9a"/>
<rect x="1018.5" y="487.4" width="21.5" height="21.5" fill="#5c3a9a"/>
<rect x="1018.5" y="485.8" width="21.5" height="21.5" fill="#5c3a9a"/>
<path d="M1029.9 409.5L1043.4 427.7L1029.9 445.9L1016.4 427.7Z" fill="#e66400"/>
<rect x="1024.3" y="221.1" width="21.5" height="21.5" fill="#5c3a9a"/>
<rect x="1029.5" y="293.8" width="21.5" height="21.5" fill="#5c3a9a"/>
<rect x="1041.1" y="480.8" width="21.5" height="21.5" fill="#5c3a9a"/>
<rect x="1041.1" y="486.4" width="21.5" height="21.5" fill="#5c3a9a"/>
<rect x="1041.1" y="488.8" width="21.5" height="21.5" fill="#5c3a9a"/>
<rect x="1054.6" y="477.8" width="21.5" height="21.5" fill="#5c3a9a"/>
<rect x="1054.6" y="484.9" width="21.5" height="21.5" fill="#5c3a9a"/>
<rect x="1054.6" y="485.8" width="21.5" height="21.5" fill="#5c3a9a"/>
<rect x="1065.1" y="492.4" width="21.5" height="21.5" fill="#5c3a9a"/>
<circle cx="1078.6" cy="503.7" r="12.5" fill="#d51356"/>
<rect x="1070.7" y="492.4" width="21.5" height="21.5" fill="#5c3a9a"/>
<rect x="1072.9" y="462.3" width="21.5" height="21.5" fill="#5c3a9a"/>
<rect x="1072.9" y="470.3" width="21.5" height="21.5" fill="#5c3a9a"/>
<rect x="1076.5" y="247.2" width="21.5" height="21.5" fill="#5c3a9a"/>
<rect x="1092.2" y="486.4" width="21.5" height="21.5" fill="#5c3a9a"/>
<rect x="1093.2" y="478.6" width="21.5" height="21.5" fill="#5c3a9a"/>
<rect x="1093.2" y="486.6" width="21.5" height="21.5" fill="#5c3a9a"/>
<rect x="1103.8" y="486.4" width="21.5" height="21.5" fill="#5c3a9a"/>
<rect x="1114.7" y="476.3" width="21.5" height="21.5" fill="#5c3a9a"/>
<rect x="1114.7" y="484.3" width="21.5" height="21.5" fill="#5c3a9a"/>
<rect x="1125.3" y="493.9" width="21.5" height="21.5" fill="#5c3a9a"/>
<circle cx="1137.3" cy="507.5" r="12.5" fill="#d51356"/>
<rect x="1131.6" y="493.9" width="21.5" height="21.5" fill="#5c3a9a"/>
<rect x="1133.1" y="472.6" width="21.5" height="21.5" fill="#5c3a9a"/>
<rect x="1133.1" y="480.6" width="21.5" height="21.5" fill="#5c3a9a"/>
<rect x="1142.2" y="247.1" width="21.5" height="21.5" fill="#5c3a9a"/>
<rect x="1148.9" y="479.3" width="21.5" height="21.5" fill="#5c3a9a"/>
<rect x="1148.9" y="487.3" width="21.5" height="21.5" fill="#5c3a9a"/>
<rect x="1153.1" y="486.4" width="21.5" height="21.5" fill="#5c3a9a"/>
<path d="M1175.7 411.6L1189.2 429.8L1175.7 448L1162.2 429.8Z" fill="#e66400"/>
<rect x="1169" y="486.4" width="21.5" height="21.5" fill="#5c3a9a"/>
<rect x="1170.4" y="481.6" width="21.5" height="21.5" fill="#5c3a9a"/>
<rect x="1170.4" y="489.6" width="21.5" height="21.5" fill="#5c3a9a"/>
<circle cx="1183.9" cy="500.5" r="12.5" fill="#d51356"/>
<rect x="1185" y="486.4" width="21.5" height="21.5" fill="#5c3a9a"/>
<rect x="1190.7" y="471.8" width="21.5" height="21.5" fill="#5c3a9a"/>
<rect x="1190.7" y="479.8" width="21.5" height="21.5" fill="#5c3a9a"/>
<rect x="1195.9" y="455.7" width="21.5" height="21.5" fill="#5c3a9a"/>
<rect x="1195.9" y="463.7" width="21.5" height="21.5" fill="#5c3a9a"/>
<circle cx="1209.5" cy="490" r="12.5" fill="#d51356"/>
<rect x="1206.5" y="487.1" width="21.5" height="21.5" fill="#5c3a9a"/>
<path d="M1218.5 423.5L1232 441.7L1218.5 459.9L1205 441.7Z" fill="#e66400"/>
<rect x="1215" y="471.1" width="21.5" height="21.5" fill="#5c3a9a"/>
<rect x="1215" y="479.1" width="21.5" height="21.5" fill="#5c3a9a"/>
<rect x="1220" y="488.7" width="21.5" height="21.5" fill="#5c3a9a"/>
<rect x="1228.8" y="240.2" width="21.5" height="21.5" fill="#5c3a9a"/>
<rect x="1236.5" y="477.1" width="21.5" height="21.5" fill="#5c3a9a"/>
<rect x="1236.5" y="485.1" width="21.5" height="21.5" fill="#5c3a9a"/>
<rect x="1239.2" y="488.7" width="21.5" height="21.5" fill="#5c3a9a"/>
<circle cx="1251.6" cy="502.2" r="12.5" fill="#d51356"/>
<rect x="1248.1" y="477.1" width="21.5" height="21.5" fill="#5c3a9a"/>
<rect x="1248.1" y="485.1" width="21.5" height="21.5" fill="#5c3a9a"/>
<rect x="1253" y="222.8" width="21.5" height="21.5" fill="#5c3a9a"/>
<rect x="1258.5" y="472.6" width="21.5" height="21.5" fill="#5c3a9a"/>
<rect x="1258.5" y="488.7" width="21.5" height="21.5" fill="#5c3a9a"/>
<rect x="1258.5" y="480.6" width="21.5" height="21.5" fill="#5c3a9a"/>
<rect x="1266.8" y="221.2" width="21.5" height="21.5" fill="#5c3a9a"/>
<rect x="1281.1" y="472.6" width="21.5" height="21.5" fill="#5c3a9a"/>
<rect x="1281.1" y="486.4" width="21.5" height="21.5" fill="#5c3a9a"/>
<rect x="1281.1" y="480.6" width="21.5" height="21.5" fill="#5c3a9a"/>
<rect x="1282.5" y="231.8" width="21.5" height="21.5" fill="#5c3a9a"/>
<rect x="1288.9" y="481.6" width="21.5" height="21.5" fill="#5c3a9a"/>
<rect x="1288.9" y="489.6" width="21.5" height="21.5" fill="#5c3a9a"/>
<rect x="1290.1" y="488.7" width="21.5" height="21.5" fill="#5c3a9a"/>
<rect x="1294.7" y="224.8" width="21.5" height="21.5" fill="#5c3a9a"/>
<rect x="1301.7" y="488.7" width="21.5" height="21.5" fill="#5c3a9a"/>
<rect x="1309.2" y="476.3" width="21.5" height="21.5" fill="#5c3a9a"/>
<rect x="1309.2" y="484.3" width="21.5" height="21.5" fill="#5c3a9a"/>
<rect x="1312" y="236.9" width="21.5" height="21.5" fill="#5c3a9a"/>
<rect x="1318.2" y="482.3" width="21.5" height="21.5" fill="#5c3a9a"/>
<rect x="1318.2" y="490.3" width="21.5" height="21.5" fill="#5c3a9a"/>
<circle cx="1333.7" cy="499.2" r="12.5" fill="#d51356"/>
<rect x="1323.2" y="484.9" width="21.5" height="21.5" fill="#5c3a9a"/>
<rect x="1331.7" y="484.9" width="21.5" height="21.5" fill="#5c3a9a"/>
<rect x="1336.2" y="254.2" width="21.5" height="21.5" fill="#5c3a9a"/>
<rect x="1339.7" y="477.8" width="21.5" height="21.5" fill="#5c3a9a"/>
<rect x="1339.7" y="485.8" width="21.5" height="21.5" fill="#5c3a9a"/>
<rect x="1353.2" y="488.7" width="21.5" height="21.5" fill="#5c3a9a"/>
<rect x="1357.3" y="488.7" width="21.5" height="21.5" fill="#5c3a9a"/>
<rect x="1358.8" y="479.3" width="21.5" height="21.5" fill="#5c3a9a"/>
<rect x="1358.8" y="487.3" width="21.5" height="21.5" fill="#5c3a9a"/>
<path d="M1376.1 421.8L1389.6 440L1376.1 458.2L1362.6 440Z" fill="#e66400"/>
<circle cx="1380.3" cy="492" r="12.5" fill="#d51356"/>
<rect x="1378.8" y="487.9" width="21.5" height="21.5" fill="#5c3a9a"/>
<rect x="1380.3" y="480.8" width="21.5" height="21.5" fill="#5c3a9a"/>
<rect x="1380.3" y="488.8" width="21.5" height="21.5" fill="#5c3a9a"/>
<rect x="1389.3" y="492.4" width="21.5" height="21.5" fill="#5c3a9a"/>
<rect x="1393.1" y="463.8" width="21.5" height="21.5" fill="#5c3a9a"/>
<rect x="1393.1" y="471.8" width="21.5" height="21.5" fill="#5c3a9a"/>
<rect x="1407.7" y="478.6" width="21.5" height="21.5" fill="#5c3a9a"/>
<rect x="1407.7" y="486.6" width="21.5" height="21.5" fill="#5c3a9a"/>
<rect x="1410.4" y="489.4" width="21.5" height="21.5" fill="#5c3a9a"/>
<rect x="1412.2" y="252.2" width="21.5" height="21.5" fill="#5c3a9a"/>
<rect x="1428.4" y="492.4" width="21.5" height="21.5" fill="#5c3a9a"/>
<rect x="1429.2" y="477.1" width="21.5" height="21.5" fill="#5c3a9a"/>
<rect x="1429.2" y="485.1" width="21.5" height="21.5" fill="#5c3a9a"/>
<rect x="1429.5" y="477.1" width="21.5" height="21.5" fill="#5c3a9a"/>
<rect x="1429.5" y="485.1" width="21.5" height="21.5" fill="#5c3a9a"/>
<rect x="1431" y="492.4" width="21.5" height="21.5" fill="#5c3a9a"/>
<rect x="1434.8" y="261.1" width="21.5" height="21.5" fill="#5c3a9a"/>
<rect x="1443.8" y="243.6" width="21.5" height="21.5" fill="#5c3a9a"/>
<rect x="1451" y="480.1" width="21.5" height="21.5" fill="#5c3a9a"/>
<rect x="1451" y="488.1" width="21.5" height="21.5" fill="#5c3a9a"/>
<rect x="1452.5" y="497.7" width="21.5" height="21.5" fill="#5c3a9a"/>
<rect x="1453.5" y="497.7" width="21.5" height="21.5" fill="#5c3a9a"/>
<rect x="1456.5" y="480.1" width="21.5" height="21.5" fill="#5c3a9a"/>
<rect x="1456.5" y="488.1" width="21.5" height="21.5" fill="#5c3a9a"/>
<circle cx="1476.5" cy="500.5" r="12.5" fill="#d51356"/>
<rect x="1475" y="490.2" width="21.5" height="21.5" fill="#5c3a9a"/>
<rect x="1478" y="477.1" width="21.5" height="21.5" fill="#5c3a9a"/>
<rect x="1478" y="485.1" width="21.5" height="21.5" fill="#5c3a9a"/>
<rect x="1485.6" y="471.1" width="21.5" height="21.5" fill="#5c3a9a"/>
<rect x="1485.6" y="479.1" width="21.5" height="21.5" fill="#5c3a9a"/>
<rect x="1488.1" y="499.2" width="21.5" height="21.5" fill="#5c3a9a"/>
<rect x="1490.3" y="194.9" width="21.5" height="21.5" fill="#5c3a9a"/>
<rect x="1498.5" y="474.8" width="21.5" height="21.5" fill="#5c3a9a"/>
<rect x="1498.5" y="488.7" width="21.5" height="21.5" fill="#5c3a9a"/>
<rect x="1498.5" y="482.8" width="21.5" height="21.5" fill="#5c3a9a"/>
<circle cx="1509.6" cy="497" r="12.5" fill="#d51356"/>
<path d="M1512.8 395.8L1526.3 414L1512.8 432.2L1499.3 414Z" fill="#e66400"/>
<rect x="1508" y="233.2" width="21.5" height="21.5" fill="#5c3a9a"/>
<rect x="1517.2" y="486.8" width="21.5" height="21.5" fill="#5c3a9a"/>
<rect x="1518.5" y="226.8" width="21.5" height="21.5" fill="#5c3a9a"/>
<rect x="1519.9" y="477.8" width="21.5" height="21.5" fill="#5c3a9a"/>
<rect x="1519.9" y="485.8" width="21.5" height="21.5" fill="#5c3a9a"/>
<rect x="1528.5" y="226.4" width="21.5" height="21.5" fill="#5c3a9a"/>
<rect x="1532" y="236.7" width="21.5" height="21.5" fill="#5c3a9a"/>
<rect x="1536.8" y="486.8" width="21.5" height="21.5" fill="#5c3a9a"/>
<rect x="1537.7" y="481.1" width="21.5" height="21.5" fill="#5c3a9a"/>
<rect x="1537.7" y="489.1" width="21.5" height="21.5" fill="#5c3a9a"/>
<rect x="1540.1" y="481.1" width="21.5" height="21.5" fill="#5c3a9a"/>
<rect x="1540.1" y="489.1" width="21.5" height="21.5" fill="#5c3a9a"/>
<rect x="1542.7" y="231.4" width="21.5" height="21.5" fill="#5c3a9a"/>
<rect x="1550" y="485.8" width="21.5" height="21.5" fill="#5c3a9a"/>
<rect x="1550" y="493.8" width="21.5" height="21.5" fill="#5c3a9a"/>
<rect x="1558.3" y="490.8" width="21.5" height="21.5" fill="#5c3a9a"/>
<rect x="1560.6" y="490.8" width="21.5" height="21.5" fill="#5c3a9a"/>
<circle cx="1571.5" cy="502.5" r="12.5" fill="#d51356"/>
<rect x="1571.5" y="483.1" width="21.5" height="21.5" fill="#5c3a9a"/>
<rect x="1571.5" y="491.1" width="21.5" height="21.5" fill="#5c3a9a"/>
<rect x="1582.1" y="488.8" width="21.5" height="21.5" fill="#5c3a9a"/>
<rect x="1587.5" y="243.8" width="21.5" height="21.5" fill="#5c3a9a"/>
<rect x="1588.4" y="483.1" width="21.5" height="21.5" fill="#5c3a9a"/>
<rect x="1588.4" y="488.8" width="21.5" height="21.5" fill="#5c3a9a"/>
<rect x="1588.4" y="491.1" width="21.5" height="21.5" fill="#5c3a9a"/>
<rect x="1597.7" y="259.6" width="21.5" height="21.5" fill="#5c3a9a"/>
<rect x="1609.9" y="477.8" width="21.5" height="21.5" fill="#5c3a9a"/>
<rect x="1609.9" y="492.1" width="21.5" height="21.5" fill="#5c3a9a"/>
<rect x="1609.9" y="485.8" width="21.5" height="21.5" fill="#5c3a9a"/>
<rect x="1614.9" y="492.1" width="21.5" height="21.5" fill="#5c3a9a"/>
<rect x="1616.8" y="234.8" width="21.5" height="21.5" fill="#5c3a9a"/>
<rect x="1631" y="229.8" width="21.5" height="21.5" fill="#5c3a9a"/>
<rect x="1635.5" y="243.8" width="21.5" height="21.5" fill="#5c3a9a"/>
<rect x="1639.1" y="479.8" width="21.5" height="21.5" fill="#5c3a9a"/>
<rect x="1639.1" y="487.8" width="21.5" height="21.5" fill="#5c3a9a"/>
<rect x="1640.1" y="479.8" width="21.5" height="21.5" fill="#5c3a9a"/>
<rect x="1640.1" y="487.8" width="21.5" height="21.5" fill="#5c3a9a"/>
<rect x="1640.4" y="484.8" width="21.5" height="21.5" fill="#5c3a9a"/>
<rect x="1640.8" y="484.8" width="21.5" height="21.5" fill="#5c3a9a"/>
<rect x="1649.7" y="252.2" width="21.5" height="21.5" fill="#5c3a9a"/>
<rect x="1658.5" y="257.4" width="21.5" height="21.5" fill="#5c3a9a"/>
<rect x="1661.5" y="237.8" width="21.5" height="21.5" fill="#5c3a9a"/>
<rect x="1666.9" y="479.8" width="21.5" height="21.5" fill="#5c3a9a"/>
<rect x="1666.9" y="487.8" width="21.5" height="21.5" fill="#5c3a9a"/>
<rect x="1667.5" y="486.8" width="21.5" height="21.5" fill="#5c3a9a"/>
<rect x="1670.5" y="224.4" width="21.5" height="21.5" fill="#5c3a9a"/>
<rect x="1692.1" y="477.8" width="21.5" height="21.5" fill="#5c3a9a"/>
<rect x="1692.1" y="492.1" width="21.5" height="21.5" fill="#5c3a9a"/>
<rect x="1692.1" y="485.8" width="21.5" height="21.5" fill="#5c3a9a"/>
<rect x="1697" y="477.8" width="21.5" height="21.5" fill="#5c3a9a"/>
<rect x="1697" y="485.8" width="21.5" height="21.5" fill="#5c3a9a"/>
<rect x="1702.3" y="492.1" width="21.5" height="21.5" fill="#5c3a9a"/>
<rect x="1703.7" y="480.5" width="21.5" height="21.5" fill="#5c3a9a"/>
<rect x="1703.7" y="488.5" width="21.5" height="21.5" fill="#5c3a9a"/>
</g>
<text x="1133" y="642.7" font-size="31.5" text-anchor="middle" fill="#000" stroke="#000" stroke-width="0.45">Hours Since Start</text>
<text x="0" y="0" font-size="31.5" text-anchor="middle" stroke="#000" stroke-width="0.45" transform="translate(498.5 371.5) rotate(-90)">Inter-Note Interval (s)</text>
<rect x="943.2" y="89.7" width="774.5" height="46.5" fill="#fff" stroke="#262626" stroke-width="1.4"/>
<circle cx="1009.1" cy="112.4" r="10.5" fill="#d51356"/>
<path d="M1203 98L1213.4 112.4L1203 126.9L1192.6 112.4Z" fill="#e66400"/>
<path d="M1395.3 98.5L1407.4 120.5L1383.2 120.5Z" fill="#1a84ff"/>
<rect x="1580.9" y="104.2" width="16.6" height="16.6" fill="#5c3a9a"/>
<text x="1072.3" y="123.5" font-size="29" text-anchor="start" fill="#000" stroke="#000" stroke-width="0.45">A-B</text>
<text x="1267.8" y="123.5" font-size="29" text-anchor="start" fill="#000" stroke="#000" stroke-width="0.45">B-A</text>
<text x="1458.8" y="123.5" font-size="29" text-anchor="start" fill="#000" stroke="#000" stroke-width="0.45">A-A</text>
<text x="1654.3" y="123.5" font-size="29" text-anchor="start" fill="#000" stroke="#000" stroke-width="0.45">B-B</text>
<g filter="url(#spf)">
<rect x="111.5" y="679.7" width="1607.5" height="397.8" fill="url(#vg)"/>
<g filter="url(#cb)">
<path d="M271.3 1034L275.3 1034L273.8 1072L271.8 1072Z" fill="rgb(128,128,128)"/>
<path d="M418.5 1034L422.5 1034L421 1072L419 1072Z" fill="rgb(128,128,128)"/>
<path d="M567.9 1034L571.9 1034L570.4 1072L568.4 1072Z" fill="rgb(128,128,128)"/>
<path d="M715.5 1034L719.5 1034L718 1072L716 1072Z" fill="rgb(128,128,128)"/>
<path d="M1050.3 1034L1054.3 1034L1052.8 1072L1050.8 1072Z" fill="rgb(128,128,128)"/>
<path d="M1201.5 1034L1205.5 1034L1204 1072L1202 1072Z" fill="rgb(128,128,128)"/>
<path d="M1350.5 1034L1354.5 1034L1353 1072L1351 1072Z" fill="rgb(128,128,128)"/>
<path d="M1504.5 1034L1508.5 1034L1507 1072L1505 1072Z" fill="rgb(128,128,128)"/>
<path d="M1651.5 1034L1655.5 1034L1654 1072L1652 1072Z" fill="rgb(128,128,128)"/>
<path d="M165.5 1034L168.5 1034L167.8 1060L166.2 1060Z" fill="rgb(115,115,115)"/>
<path d="M318.1 1034L321.1 1034L320.4 1060L318.9 1060Z" fill="rgb(115,115,115)"/>
<path d="M469 1034L472 1034L471.2 1060L469.8 1060Z" fill="rgb(115,115,115)"/>
<path d="M616.5 1034L619.5 1034L618.8 1060L617.2 1060Z" fill="rgb(115,115,115)"/>
<path d="M765.5 1034L768.5 1034L767.8 1060L766.2 1060Z" fill="rgb(115,115,115)"/>
<path d="M1100.5 1034L1103.5 1034L1102.8 1060L1101.2 1060Z" fill="rgb(115,115,115)"/>
<path d="M1251.5 1034L1254.5 1034L1253.8 1060L1252.2 1060Z" fill="rgb(115,115,115)"/>
<path d="M1400.5 1034L1403.5 1034L1402.8 1060L1401.2 1060Z" fill="rgb(115,115,115)"/>
<path d="M1554.5 1034L1557.5 1034L1556.8 1060L1555.2 1060Z" fill="rgb(115,115,115)"/>
<path d="M1707.1 1034L1710.1 1034L1709.3 1060L1707.8 1060Z" fill="rgb(115,115,115)"/>
<path d="M266.1 941L268.6 941L273.8 960L279.3 1040Q273.3 1047.2 267.3 1040L264.8 960L266.1 941Z" fill="rgb(191,191,191)"/>
<path d="M413.2 941L415.8 941L421 960L426.5 1040Q420.5 1047.2 414.5 1040L412 960L413.2 941Z" fill="rgb(191,191,191)"/>
<path d="M562.6 941L565.1 941L570.4 960L575.9 1040Q569.9 1047.2 563.9 1040L561.4 960L562.6 941Z" fill="rgb(191,191,191)"/>
<path d="M710.2 941L712.8 941L718 960L723.5 1040Q717.5 1047.2 711.5 1040L709 960L710.2 941Z" fill="rgb(191,191,191)"/>
<path d="M1045 941L1047.5 941L1052.8 960L1058.3 1040Q1052.3 1047.2 1046.3 1040L1043.8 960L1045 941Z" fill="rgb(191,191,191)"/>
<path d="M1196.2 941L1198.8 941L1204 960L1209.5 1040Q1203.5 1047.2 1197.5 1040L1195 960L1196.2 941Z" fill="rgb(191,191,191)"/>
<path d="M1345.2 941L1347.8 941L1353 960L1358.5 1040Q1352.5 1047.2 1346.5 1040L1344 960L1345.2 941Z" fill="rgb(191,191,191)"/>
<path d="M1499.2 941L1501.8 941L1507 960L1512.5 1040Q1506.5 1047.2 1500.5 1040L1498 960L1499.2 941Z" fill="rgb(191,191,191)"/>
<path d="M1646.2 941L1648.8 941L1654 960L1659.5 1040Q1653.5 1047.2 1647.5 1040L1645 960L1646.2 941Z" fill="rgb(191,191,191)"/>
<path d="M162.5 962L165.5 962L168.5 980L171.5 1036Q167 1041.4 162.5 1036L161.5 980L162.5 962Z" fill="rgb(166,166,166)"/>
<path d="M315.1 962L318.1 962L321.1 980L324.1 1036Q319.6 1041.4 315.1 1036L314.1 980L315.1 962Z" fill="rgb(166,166,166)"/>
<path d="M466 962L469 962L472 980L475 1036Q470.5 1041.4 466 1036L465 980L466 962Z" fill="rgb(166,166,166)"/>
<path d="M613.5 962L616.5 962L619.5 980L622.5 1036Q618 1041.4 613.5 1036L612.5 980L613.5 962Z" fill="rgb(166,166,166)"/>
<path d="M762.5 962L765.5 962L768.5 980L771.5 1036Q767 1041.4 762.5 1036L761.5 980L762.5 962Z" fill="rgb(166,166,166)"/>
<path d="M1097.5 962L1100.5 962L1103.5 980L1106.5 1036Q1102 1041.4 1097.5 1036L1096.5 980L1097.5 962Z" fill="rgb(166,166,166)"/>
<path d="M1248.5 962L1251.5 962L1254.5 980L1257.5 1036Q1253 1041.4 1248.5 1036L1247.5 980L1248.5 962Z" fill="rgb(166,166,166)"/>
<path d="M1397.5 962L1400.5 962L1403.5 980L1406.5 1036Q1402 1041.4 1397.5 1036L1396.5 980L1397.5 962Z" fill="rgb(166,166,166)"/>
<path d="M1551.5 962L1554.5 962L1557.5 980L1560.5 1036Q1556 1041.4 1551.5 1036L1550.5 980L1551.5 962Z" fill="rgb(166,166,166)"/>
<path d="M1704.1 962L1707.1 962L1710.1 980L1713.1 1036Q1708.6 1041.4 1704.1 1036L1703.1 980L1704.1 962Z" fill="rgb(166,166,166)"/>
<path d="M113.5 937L117.5 937L120.5 955L123 1040Q118 1046 113 1040L112.5 955L113.5 937Z" fill="rgb(191,191,191)"/>
<path d="M913.5 995L916.5 995L918 1020L919 1058Q916 1061.6 913 1058L913 1020L913.5 995Z" fill="rgb(156,156,156)"/>
</g></g>
<rect x="111.5" y="679.7" width="1607.5" height="397.8" fill="none" stroke="#111" stroke-width="1.5"/>
<text x="105.3" y="1088.7" font-size="28" text-anchor="end" fill="#000" stroke="#000" stroke-width="0.45">10</text>
<text x="105.3" y="1031.9" font-size="28" text-anchor="end" fill="#000" stroke="#000" stroke-width="0.45">20</text>
<line x1="111.5" y1="1020.7" x2="129.5" y2="1020.7" stroke="#111" stroke-width="1.5"/>
<line x1="1701" y1="1020.7" x2="1719" y2="1020.7" stroke="#111" stroke-width="1.5"/>
<text x="105.3" y="975" font-size="28" text-anchor="end" fill="#000" stroke="#000" stroke-width="0.45">30</text>
<line x1="111.5" y1="963.8" x2="129.5" y2="963.8" stroke="#111" stroke-width="1.5"/>
<line x1="1701" y1="963.8" x2="1719" y2="963.8" stroke="#111" stroke-width="1.5"/>
<text x="105.3" y="918.2" font-size="28" text-anchor="end" fill="#000" stroke="#000" stroke-width="0.45">40</text>
<line x1="111.5" y1="907" x2="129.5" y2="907" stroke="#111" stroke-width="1.5"/>
<line x1="1701" y1="907" x2="1719" y2="907" stroke="#111" stroke-width="1.5"/>
<text x="105.3" y="861.4" font-size="28" text-anchor="end" fill="#000" stroke="#000" stroke-width="0.45">50</text>
<line x1="111.5" y1="850.2" x2="129.5" y2="850.2" stroke="#111" stroke-width="1.5"/>
<line x1="1701" y1="850.2" x2="1719" y2="850.2" stroke="#111" stroke-width="1.5"/>
<text x="105.3" y="804.6" font-size="28" text-anchor="end" fill="#000" stroke="#000" stroke-width="0.45">60</text>
<line x1="111.5" y1="793.4" x2="129.5" y2="793.4" stroke="#111" stroke-width="1.5"/>
<line x1="1701" y1="793.4" x2="1719" y2="793.4" stroke="#111" stroke-width="1.5"/>
<text x="105.3" y="747.7" font-size="28" text-anchor="end" fill="#000" stroke="#000" stroke-width="0.45">70</text>
<line x1="111.5" y1="736.5" x2="129.5" y2="736.5" stroke="#111" stroke-width="1.5"/>
<line x1="1701" y1="736.5" x2="1719" y2="736.5" stroke="#111" stroke-width="1.5"/>
<text x="105.3" y="690.9" font-size="28" text-anchor="end" fill="#000" stroke="#000" stroke-width="0.45">80</text>
<text x="378.7" y="1111.6" font-size="28" text-anchor="middle" fill="#000" stroke="#000" stroke-width="0.45">0.5</text>
<line x1="378.7" y1="1077.5" x2="378.7" y2="1062.5" stroke="#111" stroke-width="1.5"/>
<line x1="378.7" y1="679.7" x2="378.7" y2="694.7" stroke="#111" stroke-width="1.5"/>
<text x="647" y="1111.6" font-size="28" text-anchor="middle" fill="#000" stroke="#000" stroke-width="0.45">1</text>
<line x1="647" y1="1077.5" x2="647" y2="1062.5" stroke="#111" stroke-width="1.5"/>
<line x1="647" y1="679.7" x2="647" y2="694.7" stroke="#111" stroke-width="1.5"/>
<text x="915.3" y="1111.6" font-size="28" text-anchor="middle" fill="#000" stroke="#000" stroke-width="0.45">1.5</text>
<line x1="915.3" y1="1077.5" x2="915.3" y2="1062.5" stroke="#111" stroke-width="1.5"/>
<line x1="915.3" y1="679.7" x2="915.3" y2="694.7" stroke="#111" stroke-width="1.5"/>
<text x="1183.6" y="1111.6" font-size="28" text-anchor="middle" fill="#000" stroke="#000" stroke-width="0.45">2</text>
<line x1="1183.6" y1="1077.5" x2="1183.6" y2="1062.5" stroke="#111" stroke-width="1.5"/>
<line x1="1183.6" y1="679.7" x2="1183.6" y2="694.7" stroke="#111" stroke-width="1.5"/>
<text x="1451.9" y="1111.6" font-size="28" text-anchor="middle" fill="#000" stroke="#000" stroke-width="0.45">2.5</text>
<line x1="1451.9" y1="1077.5" x2="1451.9" y2="1062.5" stroke="#111" stroke-width="1.5"/>
<line x1="1451.9" y1="679.7" x2="1451.9" y2="694.7" stroke="#111" stroke-width="1.5"/>
<text x="916" y="1149.7" font-size="31.5" text-anchor="middle" fill="#000" stroke="#000" stroke-width="0.45">Time (minutes)</text>
<text x="0" y="0" font-size="31.5" text-anchor="middle" stroke="#000" stroke-width="0.45" transform="translate(63.6 880.4) rotate(-90)">Frequency (Hz)</text>
<text x="268.3" y="928.3" font-size="54" text-anchor="middle" fill="#fff" stroke="#fff" stroke-width="1.3">B</text>
<text x="412.3" y="928.3" font-size="54" text-anchor="middle" fill="#fff" stroke="#fff" stroke-width="1.3">B</text>
<text x="563.2" y="928.3" font-size="54" text-anchor="middle" fill="#fff" stroke="#fff" stroke-width="1.3">B</text>
<text x="717" y="928.3" font-size="54" text-anchor="middle" fill="#fff" stroke="#fff" stroke-width="1.3">B</text>
<text x="1049" y="928.3" font-size="54" text-anchor="middle" fill="#fff" stroke="#fff" stroke-width="1.3">B</text>
<text x="1201.6" y="928.3" font-size="54" text-anchor="middle" fill="#fff" stroke="#fff" stroke-width="1.3">B</text>
<text x="1351.5" y="928.3" font-size="54" text-anchor="middle" fill="#fff" stroke="#fff" stroke-width="1.3">B</text>
<text x="1505.6" y="928.3" font-size="54" text-anchor="middle" fill="#fff" stroke="#fff" stroke-width="1.3">B</text>
<text x="1651.2" y="928.3" font-size="54" text-anchor="middle" fill="#fff" stroke="#fff" stroke-width="1.3">B</text>
<text x="914.9" y="985" font-size="54" text-anchor="middle" fill="#fff" stroke="#fff" stroke-width="1.3">A</text>
</g>
</svg>
</body></html>
